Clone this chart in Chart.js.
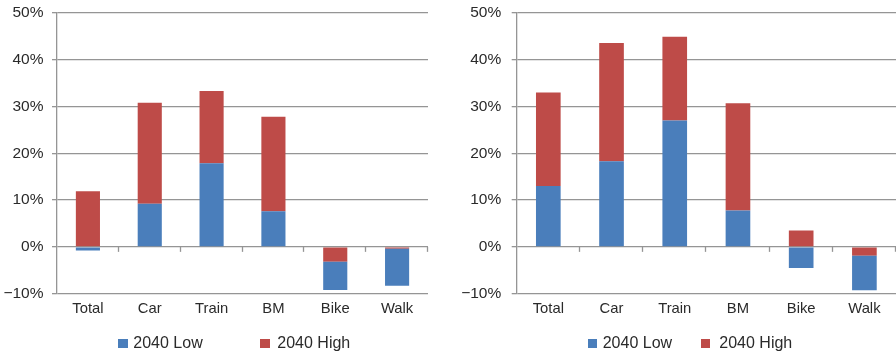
<!DOCTYPE html>
<html>
<head>
<meta charset="utf-8">
<script src="https://cdn.jsdelivr.net/npm/chart.js@4"></script>
<style>
  html, body { margin: 0; padding: 0; background: #fff; overflow: hidden; }
  body { width: 896px; height: 357px; position: relative; font-family: "Liberation Sans", Arial, sans-serif; }
  .wrap { position: absolute; top: 0; height: 357px; }
  #w1 { left: 0; width: 450px; }
  #w2 { left: 450px; width: 446px; }
  .leg { position: absolute; top: 333px; height: 20px; font-size: 16px; color: #2a2a2a; line-height: 20px; white-space: nowrap; }
  .leg .box { position: absolute; top: 5.5px; width: 9.5px; height: 9.5px; }
  .leg .txt { position: absolute; top: 0; }
</style>
</head>
<body>
<div class="wrap" id="w1"><canvas id="c1" width="450" height="357"></canvas></div>
<div class="wrap" id="w2"><canvas id="c2" width="446" height="357"></canvas></div>
<div id="legends"></div>
<script>
// ---- data ----
const categories = ['Total', 'Car', 'Train', 'BM', 'Bike', 'Walk'];
const seriesNames = ['2040 Low', '2040 High'];
const yTickValues = [-10, 0, 10, 20, 30, 40, 50];
// left panel segment values (%)
const leftLow  = [-0.8, 9.2, 17.9, 7.6, -6.0, -7.9];
const leftHigh = [11.9, 21.6, 15.4, 20.2, -3.2, -0.4];
// right panel segment values (%)
const rightLow  = [13.0, 18.3, 27.0, 7.8, -4.5, -7.4];
const rightHigh = [20.0, 25.3, 17.9, 22.9, 3.5, -1.9];

const BLUE = '#4a7ebb';
const RED = '#be4b48';
const GRID = '#959595';
const TEXT = '#2a2a2a';

// stacked segments: positives stack Low then High; negatives stack High then Low
function stackRanges(low, high) {
  const lowR = [], highR = [];
  for (let i = 0; i < low.length; i++) {
    let pos = 0, neg = 0;
    if (low[i] >= 0) { lowR[i] = [pos, pos + low[i]]; pos += low[i]; }
    if (high[i] >= 0) { highR[i] = [pos, pos + high[i]]; pos += high[i]; }
    if (high[i] < 0) { highR[i] = [neg, neg + high[i]]; neg += high[i]; }
    if (low[i] < 0) { lowR[i] = [neg, neg + low[i]]; neg += low[i]; }
  }
  return [lowR, highR];
}

const zeroTicks = {
  id: 'zeroTicks',
  afterDraw(chart) {
    const xs = chart.scales.x, ys = chart.scales.y;
    const y0 = ys.getPixelForValue(0);
    const n = categories.length;
    const ctx = chart.ctx;
    ctx.save();
    ctx.strokeStyle = GRID;
    ctx.lineWidth = 1.3;
    for (let i = 1; i <= n; i++) {
      const x = Math.round(xs.left + i * xs.width / n) - 0.5;
      ctx.beginPath();
      ctx.moveTo(x, y0);
      ctx.lineTo(x, y0 + 5);
      ctx.stroke();
    }
    ctx.restore();
  }
};

function makeChart(id, low, high, axisWidth, tickPad, padRight) {
  const [lowR, highR] = stackRanges(low, high);
  return new Chart(document.getElementById(id), {
    type: 'bar',
    data: {
      labels: categories,
      datasets: [
        { label: seriesNames[0], data: lowR, backgroundColor: BLUE, grouped: false, borderWidth: 0 },
        { label: seriesNames[1], data: highR, backgroundColor: RED, grouped: false, borderWidth: 0 }
      ]
    },
    options: {
      responsive: false,
      animation: false,
      events: [],
      layout: { padding: { top: 13, right: padRight, bottom: 33.6, left: 0 } },
      datasets: { bar: { categoryPercentage: 1, barPercentage: 0.39 } },
      plugins: { legend: { display: false }, tooltip: { enabled: false } },
      scales: {
        x: {
          grid: { display: false, drawTicks: false },
          border: { display: false },
          ticks: { color: TEXT, font: { family: 'Liberation Sans', size: 14.8 }, padding: 6, maxRotation: 0 }
        },
        y: {
          min: -10, max: 50,
          afterBuildTicks(scale) { scale.ticks = yTickValues.map(v => ({ value: v })); },
          afterFit(scale) { scale.width = axisWidth; scale.paddingTop = 0; scale.paddingBottom = 0; },
          grid: { color: GRID, lineWidth: 1.3, tickLength: 5, drawTicks: true },
          border: { display: true, color: GRID, width: 1.3 },
          ticks: {
            color: TEXT,
            font: { family: 'Liberation Sans', size: 15.5 },
            padding: tickPad,
            callback: v => (v < 0 ? '\u2212' + Math.abs(v) : String(v)) + '%'
          }
        }
      }
    },
    plugins: [zeroTicks]
  });
}

makeChart('c1', leftLow, leftHigh, 57, 8.5, 22);
makeChart('c2', rightLow, rightHigh, 66.7, 10.5, 0);

// HTML legends
const legendSpecs = [
  { boxes: [118.3, 260.2], texts: [133.3, 277.3] },
  { boxes: [587.7, 700.7], texts: [602.7, 719.3] }
];
const colors = [BLUE, RED];
const legRoot = document.getElementById('legends');
legendSpecs.forEach(spec => {
  seriesNames.forEach((name, i) => {
    const d = document.createElement('div');
    d.className = 'leg';
    d.style.left = spec.boxes[i] + 'px';
    const b = document.createElement('span');
    b.className = 'box';
    b.style.left = '0px';
    b.style.background = colors[i];
    const t = document.createElement('span');
    t.className = 'txt';
    t.style.left = (spec.texts[i] - spec.boxes[i]) + 'px';
    t.textContent = name;
    d.appendChild(b); d.appendChild(t);
    legRoot.appendChild(d);
  });
});
</script>
</body>
</html>
